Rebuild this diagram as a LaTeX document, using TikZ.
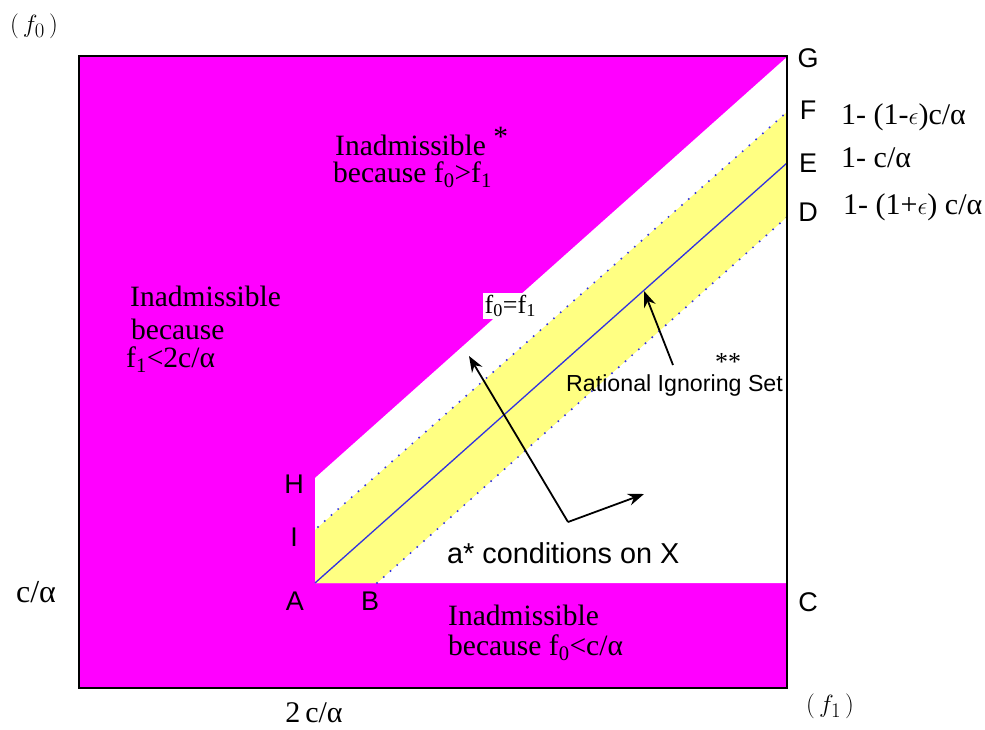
\documentclass[tikz,border=0pt]{standalone}
\usepackage{fontspec}
\setmainfont{Liberation Serif}
\newfontfamily\hv{Liberation Sans}
\usetikzlibrary{arrows.meta}
\definecolor{mag}{RGB}{255,0,255}
\definecolor{yel}{RGB}{255,255,130}
\definecolor{bl}{RGB}{50,50,225}
\begin{document}
\begin{tikzpicture}[x=1pt,y=-1pt,
  serif/.style={font=\fontsize{29.5}{34}\selectfont, inner sep=0pt, anchor=west, align=left},
  rlab/.style={font=\fontsize{30}{34}\selectfont, inner sep=0pt, anchor=west},
  sans/.style={font=\hv\fontsize{27}{31}\selectfont, inner sep=0pt},
  small/.style={font=\hv\fontsize{23.2}{27}\selectfont, inner sep=0pt},
  dotline/.style={bl, line width=2.2pt, line cap=round, dash pattern=on 0pt off 9pt},
  arr/.style={-{Stealth[length=16pt,width=12pt]}, line width=1.8pt, black}]
\useasboundingbox (0,0) rectangle (985,729);
% regions
\fill[mag] (79,56) rectangle (787,688);
\fill[white] (315,583) -- (315,478) -- (787,57) -- (787,583) -- cycle;
\fill[yel] (315,583) -- (315,530) -- (787,112) -- (787,217) -- (377,583) -- cycle;
% band boundaries
\coordinate (pA) at (315,583);
\coordinate (pI) at (318,527);
\coordinate (pF) at (787,112);
\coordinate (pB) at (377,583);
\coordinate (pD) at (787,217);
\coordinate (pE) at (787,163);
\draw[dotline] (pI) -- (pF);
\draw[dotline] (pB) -- (pD);
\draw[bl, line width=1.3pt] (pA) -- (pE);
% frame
\draw[black, line width=2.6pt] (79,56) rectangle (787,688);
% point labels
\node[sans] (G) at (808,58) {G};
\node[sans] (F) at (808,110) {F};
\node[sans] (E) at (808,163) {E};
\node[sans] (D) at (808,212) {D};
\node[sans] (C) at (808,602) {C};
\node[sans] (H) at (294,484) {H};
\node[sans] (I) at (294,537) {I};
\node[sans] (A) at (295,601) {A};
\node[sans] (B) at (370,601) {B};
% value labels
\node[rlab] (vF) at (841,117) {1- (1-{\fontsize{24.88}{26}\selectfont$\epsilon$})c/α};
\node[rlab] (vE) at (841,158) {1- c/α};
\node[rlab] (vD) at (843,207) {1- (1+{\fontsize{24.88}{26}\selectfont$\epsilon$}) c/α};
\node[rlab, anchor=center, font=\fontsize{32}{36}\selectfont] (ca) at (36,592) {c/α};
\node[rlab, anchor=center] (tca) at (314,713) {2\,c/α};
\node[inner sep=0pt, font=\fontsize{24.88}{30}\selectfont] (f0) at (34,26) {$(\,f_0\,)$};
\node[inner sep=0pt, font=\fontsize{24.88}{30}\selectfont] (f1) at (830,706) {$(\,f_1\,)$};
% region texts
\node[serif] (t1) at (335,141) {Inadmissible \raisebox{9pt}{*}};
\node[serif] (t2) at (333,175) {because f\textsubscript{0}>f\textsubscript{1}};
\node[serif] (l1) at (130,296) {Inadmissible};
\node[serif] (l2) at (131,329) {because};
\node[serif] (l3) at (126,360) {f\textsubscript{1}<2c/α};
\node[serif] (b1) at (448,615) {Inadmissible};
\node[serif] (b2) at (448,648) {because f\textsubscript{0}<c/α};
\node[serif, fill=white, inner sep=1.5pt, font=\fontsize{26}{30}\selectfont] (eq) at (483,306) {f\textsubscript{0}=f\textsubscript{1}};
\node[sans, anchor=west, font=\hv\fontsize{28.8}{32}\selectfont] (cond) at (447,553) {a* conditions on X};
\node[small, anchor=west] (ris) at (566,385) {Rational Ignoring Set};
\node[rlab, anchor=center, font=\fontsize{26}{30}\selectfont] (ss) at (728,362) {**};
% arrows
\coordinate (tail) at (568,522);
\coordinate (tip1) at (469,356);
\coordinate (tip2) at (644,494);
\coordinate (rtail) at (673,365);
\coordinate (rtip) at (644,291);
\draw[arr] (tail) -- (tip1);
\draw[arr] (tail) -- (tip2);
\draw[arr] (rtail) -- (rtip);
\end{tikzpicture}
\end{document}
